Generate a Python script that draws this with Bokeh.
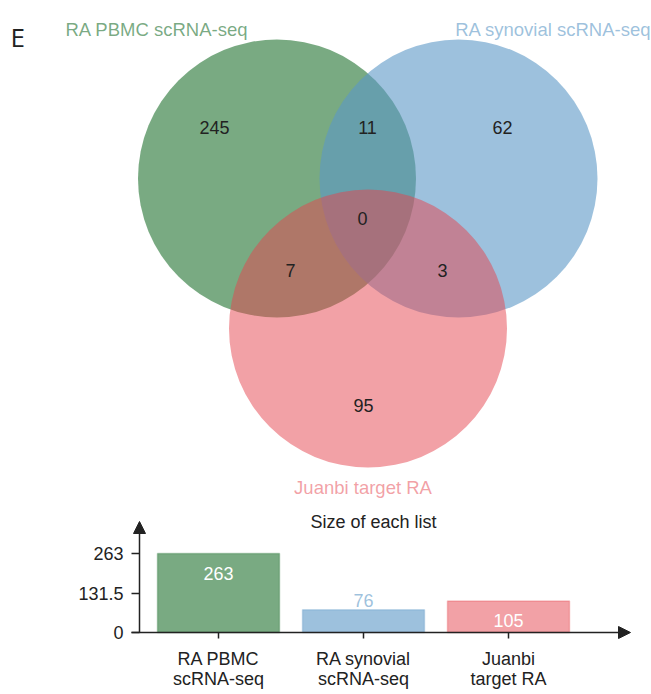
from bokeh.plotting import figure
from bokeh.layouts import column
from bokeh.models import Range1d, FixedTicker, Arrow, NormalHead, Label
from bokeh.core.properties import value
from bokeh.embed import file_html
from bokeh.resources import INLINE

# ---- data -------------------------------------------------------------
panel_letter = "E"
set_names = ["RA PBMC scRNA-seq", "RA synovial scRNA-seq", "Juanbi target RA"]
set_tick_labels = ["RA PBMC\nscRNA-seq", "RA synovial\nscRNA-seq", "Juanbi\ntarget RA"]
set_sizes = [263, 76, 105]
# exclusive region counts: A only, B only, C only, A&B, A&C, B&C, A&B&C
region_counts = [245, 62, 95, 11, 7, 3, 0]
bar_title = "Size of each list"

# ---- style ------------------------------------------------------------
FONT = "Liberation Sans"
INK = "#222222"
set_colors = ["#20712F", "#5C98C6", "#E5434D"]
set_alphas = [0.6, 0.6, 0.5]

# ---- Venn diagram (pixel-like coordinates, y grows downward) ----------
W, VH = 651, 500
venn = figure(width=W, height=VH, x_range=Range1d(0, W), y_range=Range1d(VH, 0),
              output_backend="svg", toolbar_location=None, min_border=0,
              x_axis_location=None, y_axis_location=None)
venn.grid.visible = False
venn.outline_line_color = None

cx = [276.5, 458.0, 367.5]
cy = [178.0, 178.0, 328.0]
radius = 139.0
venn.circle(x=cx, y=cy, radius=radius, fill_color=set_colors,
            fill_alpha=set_alphas, line_color=None)

# region count labels (baseline positions inside each region)
rx = [214, 502, 363, 367, 290, 442, 362]
ry = [127, 127, 405, 127, 270, 270, 218]
venn.text(x=rx, y=ry, text=[str(c) for c in region_counts],
          text_font=value(FONT), text_font_size="18px", text_color=INK,
          text_align="center", text_baseline="alphabetic")

# set names around the circles
name_x = [65, 651, 362.5]
name_y = [29, 29, 487]
name_align = ["left", "right", "center"]
for i in range(3):
    venn.text(x=[name_x[i]], y=[name_y[i]], text=[set_names[i]],
              text_font=value(FONT), text_font_size="18.5px",
              text_color=set_colors[i], text_alpha=set_alphas[i],
              text_align=name_align[i], text_baseline="alphabetic")

venn.text(x=[10], y=[36], text=[panel_letter], text_font=value("Open Sans"),
          text_font_size="26px", text_color=INK, text_align="left",
          text_baseline="alphabetic")

# ---- bar chart of set sizes -------------------------------------------
# The frame fills the whole canvas; axes sit at fixed data locations so the
# arrow heads and the title stay inside the drawable area.
BH = 194
PX_PER_CAT = 145.0      # horizontal pixels per category
CAT0_PX = 218.0         # screen x of the first category
ZERO_PX = 132.0         # canvas y of the value 0
ymax = max(set_sizes)
PX_PER_VAL = 79.0 / ymax

def xd(px):
    return (px - CAT0_PX) / PX_PER_CAT

def yd(py):
    return (ZERO_PX - py) / PX_PER_VAL

bars = figure(width=W, height=BH, x_range=Range1d(xd(0), xd(W)),
              y_range=Range1d(yd(BH), yd(0)),
              output_backend="svg", toolbar_location=None, min_border=0)
bars.grid.visible = False
bars.outline_line_color = None

xs = list(range(len(set_sizes)))
bars.vbar(x=xs, top=set_sizes, width=122 / PX_PER_CAT, bottom=0,
          fill_color=set_colors, fill_alpha=set_alphas,
          line_color=set_colors, line_alpha=0.3, line_width=1.5)

# value labels: inside the bar when it is tall enough, otherwise above it
inside = [s >= 0.35 * ymax for s in set_sizes]
bars.text(x=xs, y=set_sizes, text=[str(s) for s in set_sizes],
          y_offset=[20 if i else -9.5 for i in inside],
          text_color=["white" if i else c for i, c in zip(inside, set_colors)],
          text_alpha=[1.0 if i else a for i, a in zip(inside, set_alphas)],
          text_font=value(FONT), text_font_size="18px",
          text_align="center", text_baseline="alphabetic")

y_axis_x = xd(139)
y_top = yd(21)

for ax in (bars.xaxis[0], bars.yaxis[0]):
    ax.axis_line_color = None
    ax.major_tick_line_color = INK
    ax.major_tick_line_width = 1.5
    ax.major_tick_in = 0
    ax.minor_tick_line_color = None
    ax.major_label_text_font = FONT
    ax.major_label_text_font_size = "18px"
    ax.major_label_text_color = INK

y_ticks = [0, ymax / 2, ymax]
bars.yaxis.fixed_location = y_axis_x
bars.yaxis.ticker = FixedTicker(ticks=y_ticks)
bars.yaxis.major_label_overrides = {t: f"{t:g}" for t in y_ticks}
bars.yaxis.major_tick_out = 8
bars.yaxis.major_label_standoff = 8

bars.xaxis.fixed_location = 0
bars.xaxis.ticker = FixedTicker(ticks=xs)
bars.xaxis.major_label_overrides = {i: set_tick_labels[i] for i in xs}
bars.xaxis.major_tick_out = 6
bars.xaxis.major_label_standoff = 10
bars.xaxis.major_label_text_line_height = 1.0

head_kw = dict(size=12, fill_color=INK, line_color=INK)
bars.add_layout(Arrow(x_start=xd(131), y_start=0, x_end=xd(630), y_end=0,
                      end=NormalHead(**head_kw), line_color=INK, line_width=1.5))
bars.add_layout(Arrow(x_start=y_axis_x, y_start=0, x_end=y_axis_x, y_end=y_top,
                      end=NormalHead(**head_kw), line_color=INK, line_width=1.5))

bars.add_layout(Label(x=xd(373), y=y_top, text=bar_title,
                      text_font=FONT, text_font_size="18px", text_color=INK,
                      text_align="center", text_baseline="alphabetic"))

layout = column(venn, bars, spacing=0)
open("out.html", "w").write(file_html(layout, INLINE))
